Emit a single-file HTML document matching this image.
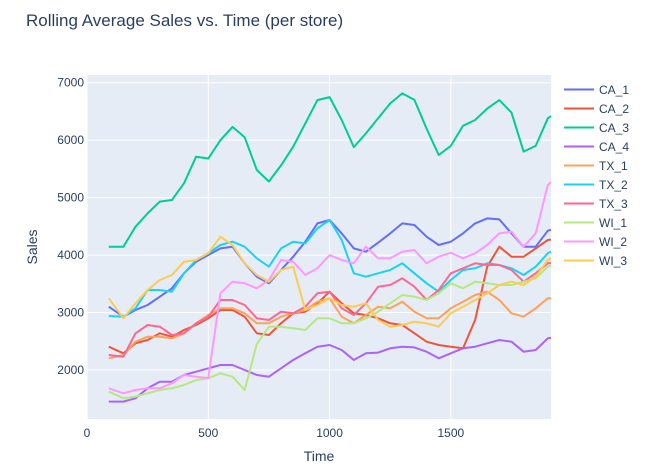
<!DOCTYPE html>
<html><head><meta charset="utf-8"><style>
html,body{margin:0;padding:0;background:#fff;}
svg{display:block;font-family:"Liberation Sans",sans-serif;}
</style></head><body>
<svg id="chart" width="649" height="472" xmlns="http://www.w3.org/2000/svg">
<rect width="649" height="472" fill="#fff"/>
<text x="26" y="26" font-size="17" fill="#2a3f5f">Rolling Average Sales vs. Time (per store)</text>
<rect x="87" y="75" width="464" height="344" fill="#e5ecf6"/>
<g id="grid"></g>
<g id="series"></g>
<g id="legend"></g>
<text x="319" y="461" font-size="14" fill="#2a3f5f" text-anchor="middle">Time</text>
<text transform="translate(37,247) rotate(-90)" font-size="14" fill="#2a3f5f" text-anchor="middle">Sales</text>
</svg>
<script>
const X = [90,150,200,250,300,350,400,450,500,550,600,650,700,750,800,850,900,950,1000,1050,1100,1150,1200,1250,1300,1350,1400,1450,1500,1550,1600,1650,1700,1750,1800,1850,1900,1913];
const seriesNames = ["CA_1","CA_2","CA_3","CA_4","TX_1","TX_2","TX_3","WI_1","WI_2","WI_3"];
const seriesColors = ["#636efa","#ef553b","#00cc96","#ab63fa","#ffa15a","#19d3f3","#ff6692","#b6e880","#ff97ff","#fecb52"];
const CA_1 = [3102,2928,3044,3131,3276,3421,3682,3885,4001,4117,4146,3856,3624,3508,3740,3972,4233,4552,4610,4378,4117,4059,4216,4378,4552,4523,4320,4175,4233,4378,4552,4639,4621,4378,4146,4146,4425,4440];
const CA_2 = [2406,2290,2464,2522,2638,2580,2696,2783,2899,3044,3044,2928,2638,2609,2812,2986,3015,3160,3363,3160,2986,2957,2899,2812,2783,2638,2493,2435,2406,2377,2870,3798,4146,3972,3972,4117,4262,4270];
const CA_3 = [4146,4146,4494,4726,4930,4958,5250,5712,5680,6000,6230,6050,5480,5280,5560,5886,6292,6698,6750,6350,5880,6118,6380,6640,6814,6700,6200,5741,5900,6250,6350,6550,6698,6480,5800,5900,6380,6420];
const CA_4 = [1449,1449,1507,1681,1797,1797,1913,1971,2029,2087,2087,2000,1913,1884,2029,2174,2290,2406,2435,2348,2174,2290,2302,2377,2406,2394,2319,2203,2290,2377,2406,2464,2522,2493,2319,2348,2551,2560];
const TX_1 = [2203,2261,2493,2580,2580,2551,2638,2812,2957,3073,3073,2986,2812,2812,2928,2986,3044,3189,3247,2928,2812,2957,3102,3073,3189,3015,2899,2899,3073,3189,3305,3363,3218,2986,2928,3073,3247,3250];
const TX_2 = [2940,2928,3073,3392,3392,3363,3682,3914,4030,4175,4233,4146,3943,3798,4117,4233,4204,4465,4610,4262,3682,3624,3682,3740,3856,3682,3508,3363,3566,3740,3769,3856,3827,3769,3653,3798,4030,4060];
const TX_3 = [2261,2232,2638,2783,2754,2609,2638,2812,2928,3218,3218,3131,2899,2870,3015,2986,3102,3334,3363,3073,2957,3160,3450,3479,3595,3450,3218,3392,3682,3769,3856,3827,3827,3740,3537,3682,3856,3860];
const WI_1 = [1623,1507,1536,1594,1652,1681,1739,1826,1855,1942,1884,1652,2450,2754,2754,2725,2696,2899,2899,2812,2812,2899,3015,3160,3305,3276,3218,3334,3508,3421,3537,3508,3479,3479,3537,3595,3798,3820];
const WI_2 = [1681,1594,1652,1681,1681,1768,1913,1884,1860,3334,3537,3508,3421,3566,3914,3885,3653,3769,4000,3914,3856,4146,3943,3943,4059,4088,3856,3972,4041,3943,4030,4175,4378,4407,4146,4378,5220,5270];
const WI_3 = [3247,2899,3160,3392,3566,3653,3885,3914,4030,4320,4175,3856,3653,3537,3740,3798,3044,3131,3247,3131,3102,3160,2870,2754,2783,2841,2812,2754,2986,3102,3218,3334,3479,3537,3479,3624,3914,3950];
const seriesValues = [CA_1,CA_2,CA_3,CA_4,TX_1,TX_2,TX_3,WI_1,WI_2,WI_3];
const xTicks = [0,500,1000,1500];
const yTicks = [2000,3000,4000,5000,6000,7000];

const NS="http://www.w3.org/2000/svg";
const L=87,R=551,T=75,B=419, X0=0,X1=1913, Y0=1147,Y1=7134;
const sx=v=>L+(v-X0)/(X1-X0)*(R-L);
const sy=v=>B-(v-Y0)/(Y1-Y0)*(B-T);
function mk(tag,attrs,parent){const e=document.createElementNS(NS,tag);for(const k in attrs)e.setAttribute(k,attrs[k]);parent.appendChild(e);return e;}
const grid=document.getElementById('grid');
xTicks.forEach(t=>{
  const l=mk('line',{x1:sx(t),x2:sx(t),y1:T,y2:B,stroke:'#fff','stroke-width':1},grid);
  
  
  const tx=mk('text',{x:sx(t),y:B+18,'font-size':12,fill:'#2a3f5f','text-anchor':'middle'},grid);
  tx.textContent=t;
  
  
});
yTicks.forEach(t=>{
  const l=mk('line',{x1:L,x2:R,y1:sy(t),y2:sy(t),stroke:'#fff','stroke-width':1},grid);
  
  
  const tx=mk('text',{x:L-3,y:sy(t)+4,'font-size':12,fill:'#2a3f5f','text-anchor':'end'},grid);
  tx.textContent=t;
  
  
});
const sg=document.getElementById('series'), lg=document.getElementById('legend');
seriesValues.forEach((vals,i)=>{
  const d=vals.map((v,j)=>(j?'L':'M')+sx(X[j]).toFixed(1)+','+sy(v).toFixed(1)).join(' ');
  const p=mk('path',{d:d,fill:'none',stroke:seriesColors[i],'stroke-width':2,'stroke-linejoin':'round'},sg);
  
  
  const g=mk('g',{},lg);
  
  
  const y=89.5+i*19;
  mk('line',{x1:564,x2:594,y1:y,y2:y,stroke:seriesColors[i],'stroke-width':2},g);
  const t=mk('text',{x:599,y:y+4.5,'font-size':12,fill:'#2a3f5f'},g);
  t.textContent=seriesNames[i];
});
</script>
</body></html>
